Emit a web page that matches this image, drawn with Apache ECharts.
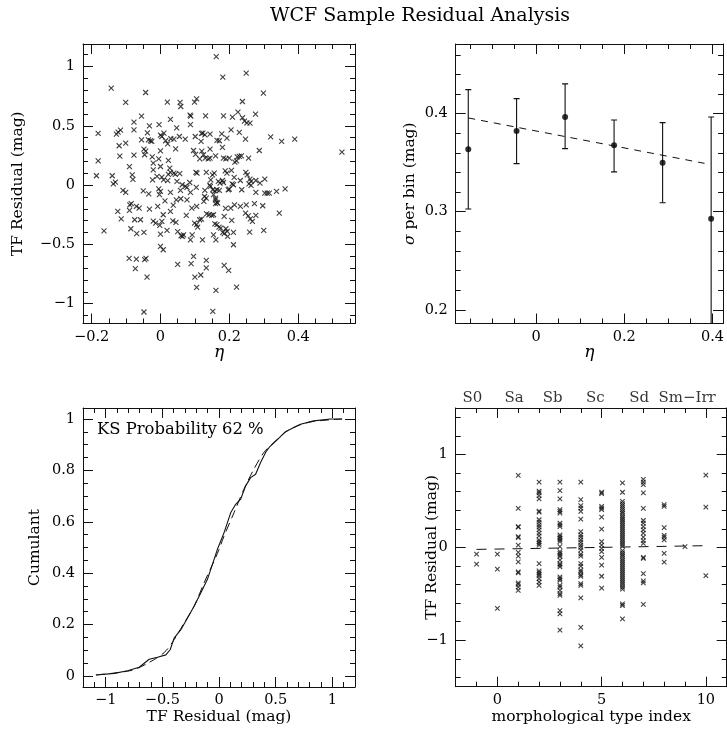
<!DOCTYPE html>
<html><head><meta charset="utf-8">
<script src="https://cdn.jsdelivr.net/npm/echarts@6/dist/echarts.min.js"></script>
<style>html,body{margin:0;padding:0;background:#fff}#c{width:727px;height:736px}</style>
</head><body><div id="c"></div>
<script>
// ---------- Panel 1: TF residual vs eta ----------
const tlEta = [0.162,0.181,0.249,-0.143,-0.043,0.299,-0.101,0.020,0.057,0.059,0.099,0.105,0.238,-0.055,-0.077,0.029,0.086,0.088,0.131,0.183,0.209,0.225,0.238,0.244,0.251,0.260,0.276,0.087,-0.032,-0.004,0.047,-0.181,-0.128,-0.123,-0.116,-0.077,-0.038,0.000,0.004,0.010,0.030,0.039,0.055,0.072,0.101,0.119,0.123,0.129,0.144,0.164,0.171,0.178,0.193,0.205,0.229,0.247,0.320,0.352,0.390,0.527,
-0.120,-0.101,-0.055,-0.035,-0.029,-0.025,0.015,0.021,0.044,0.000,-0.048,-0.043,-0.046,-0.077,-0.118,-0.181,-0.090,-0.024,-0.005,0.023,0.096,0.102,0.120,0.125,0.144,0.180,0.118,0.287,0.114,0.130,0.139,0.144,0.160,0.183,0.190,0.200,0.223,0.229,0.235,0.221,0.256,
-0.021,0.000,0.027,-0.021,-0.082,-0.080,-0.186,-0.140,-0.137,-0.131,-0.023,-0.010,0.004,0.009,0.023,0.029,0.039,0.043,0.056,0.103,0.106,0.133,0.151,0.156,0.146,0.143,0.168,0.173,0.188,0.193,0.180,0.183,0.214,0.208,0.232,0.248,0.252,0.260,0.263,0.257,0.263,0.277,0.289,0.303,0.063,0.048,0.072,0.077,0.104,0.085,-0.005,0.021,
-0.109,-0.101,-0.050,-0.034,0.000,-0.003,0.029,0.058,0.087,0.129,0.128,0.145,0.152,0.158,0.164,0.154,0.160,0.164,0.160,0.171,0.197,0.200,0.236,0.212,0.277,0.303,0.310,0.316,0.337,0.362,
-0.089,-0.085,-0.070,-0.062,-0.124,-0.114,-0.090,-0.075,-0.058,-0.032,-0.008,0.013,0.037,0.046,0.059,0.077,0.105,0.091,0.126,0.133,0.160,0.166,0.189,0.204,0.215,0.232,0.249,0.273,0.297,0.207,0.075,0.134,0.141,0.149,0.154,0.185,0.247,0.255,0.261,0.267,0.277,0.345,
-0.164,-0.086,-0.069,-0.048,-0.021,-0.014,-0.002,0.004,0.000,0.019,0.008,0.029,0.036,0.045,0.050,0.060,0.064,0.067,0.087,0.092,0.099,0.105,0.108,0.114,0.119,0.122,0.158,0.164,0.170,0.175,0.154,0.161,0.190,0.194,0.181,0.185,0.195,0.212,0.212,0.259,0.300,
0.000,0.008,-0.091,-0.070,-0.046,-0.042,-0.073,-0.039,0.050,0.089,0.096,0.133,0.133,0.185,0.198,0.100,0.117,0.105,0.161,0.221,-0.048,0.152,0.216,0.206];
const tlResid = [1.084,0.910,0.944,0.818,0.781,0.776,0.697,0.700,0.697,0.663,0.700,0.728,0.705,0.582,0.531,0.554,0.590,0.582,0.584,0.584,0.573,0.615,0.568,0.540,0.525,0.523,0.599,0.511,0.500,0.511,0.483,0.436,0.430,0.447,0.464,0.466,0.441,0.421,0.410,0.438,0.391,0.388,0.410,0.388,0.410,0.436,0.438,0.424,0.430,0.377,0.374,0.433,0.396,0.466,0.444,0.388,0.407,0.368,0.388,0.278,
0.332,0.354,0.382,0.382,0.374,0.368,0.374,0.348,0.306,0.289,0.303,0.287,0.256,0.253,0.244,0.205,0.155,0.239,0.222,0.208,0.292,0.259,0.287,0.256,0.303,0.318,0.368,0.292,0.222,0.228,0.222,0.228,0.247,0.228,0.222,0.228,0.239,0.242,0.247,0.205,0.228,
0.185,0.157,0.143,0.129,0.087,0.048,0.079,0.079,0.011,0.025,0.045,0.073,0.067,0.045,0.090,0.107,0.101,0.090,0.096,0.107,0.101,0.107,0.087,0.101,0.045,0.000,0.031,0.017,0.121,0.101,0.039,0.022,0.065,0.011,0.039,0.107,0.087,0.051,0.031,0.011,-0.003,0.039,0.017,0.051,0.003,0.031,-0.011,-0.020,-0.020,0.022,-0.031,0.037,
-0.045,-0.062,-0.048,-0.073,-0.053,-0.081,-0.062,-0.045,-0.062,-0.045,-0.096,-0.011,-0.039,-0.048,-0.039,-0.081,-0.110,-0.146,-0.157,-0.045,-0.039,-0.034,-0.039,0.003,-0.062,-0.067,-0.067,-0.067,-0.053,-0.031,
-0.166,-0.157,-0.180,-0.194,-0.222,-0.284,-0.213,-0.292,-0.292,-0.202,-0.180,-0.132,-0.169,-0.124,-0.115,-0.124,-0.180,-0.194,-0.138,-0.110,-0.124,-0.152,-0.197,-0.194,-0.166,-0.180,-0.166,-0.157,-0.174,-0.298,-0.256,-0.242,-0.250,-0.256,-0.250,-0.264,-0.236,-0.259,-0.284,-0.306,-0.256,-0.236,
-0.385,-0.368,-0.410,-0.399,-0.303,-0.320,-0.340,-0.306,-0.413,-0.382,-0.250,-0.222,-0.301,-0.315,-0.393,-0.427,-0.433,-0.419,-0.461,-0.419,-0.320,-0.334,-0.354,-0.292,-0.287,-0.461,-0.326,-0.334,-0.354,-0.362,-0.419,-0.461,-0.368,-0.390,-0.399,-0.410,-0.433,-0.399,-0.503,-0.396,-0.382,
-0.517,-0.545,-0.618,-0.624,-0.629,-0.618,-0.705,-0.775,-0.669,-0.663,-0.601,-0.635,-0.697,-0.677,-0.719,-0.775,-0.758,-0.862,-0.888,-0.860,-1.070,-1.065,0.194,0.124];

// ---------- Panel 2: sigma per eta bin ----------
const binEta   = [-0.1535, -0.044, 0.066, 0.177, 0.287, 0.397];
const binSigma = [0.3636, 0.3823, 0.3966, 0.3677, 0.3500, 0.2929];
const binLow   = [0.3027, 0.3490, 0.3643, 0.3406, 0.3092, 0.1850];
const binHigh  = [0.4245, 0.4153, 0.4303, 0.3935, 0.3908, 0.3966];
const fitEta   = [-0.1535, 0.382];
const fitSigma = [0.3956, 0.3493];

// ---------- Panel 3: cumulative distributions ----------
const cdfX = [-1.086,-0.924,-0.807,-0.704,-0.616,-0.543,-0.469,-0.431,-0.396,-0.337,-0.279,-0.220,-0.161,-0.103,-0.044,-0.015,0.044,0.103,0.147,0.191,0.235,0.279,0.323,0.367,0.411,0.449,0.513,0.587,0.660,0.719,0.836,0.983,1.086];
const cdfY = [0.004,0.010,0.020,0.034,0.065,0.073,0.082,0.102,0.147,0.180,0.225,0.271,0.323,0.375,0.453,0.492,0.557,0.635,0.668,0.688,0.740,0.772,0.785,0.831,0.870,0.893,0.919,0.951,0.967,0.980,0.993,1.000,1.000];
const gaussX = [-1.086,-0.778,-0.631,-0.484,-0.396,-0.308,-0.220,-0.132,-0.044,0.000,0.044,0.132,0.220,0.308,0.396,0.484,0.602,0.719,0.836,1.086];
const gaussY = [0.004,0.021,0.049,0.091,0.141,0.206,0.271,0.362,0.447,0.492,0.544,0.635,0.727,0.805,0.870,0.909,0.954,0.978,0.991,1.000];
const ksText = 'KS Probability 62 %';

// ---------- Panel 4: residual vs morphological type ----------
const typeCols = {
  '-1': [-0.072,-0.181],
  '0':  [-0.072,-0.235,-0.658],
  '1':  [0.774,0.420,0.224,0.217,0.116,0.105,0.025,-0.054,-0.094,-0.156,-0.264,-0.275,-0.383,-0.398,-0.427,-0.463],
  '2':  [0.702,0.604,0.586,0.557,0.521,0.391,0.380,0.297,0.271,0.242,0.217,0.188,0.152,0.123,0.080,0.058,0.043,0.025,-0.174,-0.253,-0.271,-0.289,-0.307,-0.336,-0.373,-0.409],
  '3':  [0.702,0.611,0.521,0.405,0.387,0.369,0.260,0.242,0.224,0.134,0.116,0.098,0.080,0.061,0.007,-0.047,-0.065,-0.083,-0.101,-0.137,-0.174,-0.192,-0.210,-0.318,-0.336,-0.354,-0.409,-0.427,-0.463,-0.499,-0.517,-0.680,-0.716,-0.890],
  '4':  [0.702,0.514,0.449,0.423,0.387,0.304,0.170,0.134,0.109,0.080,0.054,0.025,0.000,-0.029,-0.072,-0.094,-0.174,-0.203,-0.246,-0.264,-0.293,-0.311,-0.391,-0.409,-0.543,-0.861,-1.060],
  '5':  [0.593,0.579,0.441,0.423,0.405,0.326,0.195,0.061,0.025,-0.011,-0.047,-0.109,-0.192,-0.311,-0.438],
  '6':  [0.694,0.593,0.495,0.470,0.449,0.427,0.405,0.383,0.362,0.340,0.318,0.297,0.275,0.253,0.231,0.210,0.188,0.166,0.145,0.123,0.101,0.080,0.058,0.036,0.014,-0.036,-0.058,-0.080,-0.101,-0.123,-0.145,-0.166,-0.188,-0.210,-0.231,-0.253,-0.275,-0.297,-0.318,-0.340,-0.362,-0.383,-0.405,-0.427,-0.449,-0.608,-0.626,-0.770],
  '7':  [0.731,0.702,0.676,0.586,0.420,0.289,0.260,0.224,0.188,0.152,0.109,0.072,0.043,-0.109,-0.119,-0.282,-0.362,-0.383,-0.615],
  '8':  [0.459,0.441,0.213,0.130,0.109,0.080,-0.065,-0.159],
  '9':  [0.007],
  '10': [0.778,0.434,-0.304]
};
const typeFitX = [-1, 10];
const typeFitY = [-0.022, 0.018];
const typeNames = ['S0','Sa','Sb','Sc','Sd','Sm\u2212Irr'];
const typeNamePos = [-1.2, 0.8, 2.65, 4.7, 6.8, 9.1];

// ---------- chart ----------
const FONT = 'DejaVu Serif';
const INK = '#111';
const TICKFS = 14.5, NAMEFS = 15.5;
const fmt = v => String(+v.toFixed(6)).replace('-', '\u2212');

function axis(o) {
  return {
    type: 'value', gridIndex: o.grid, position: o.pos,
    min: o.min, max: o.max, minInterval: o.step, maxInterval: o.step, splitNumber: 5,
    axisLine: {show: true, onZero: false, lineStyle: {color: INK, width: 1}},
    axisTick: {show: true, inside: true, length: 10, lineStyle: {color: INK, width: 1}},
    minorTick: {show: true, splitNumber: o.minor, length: 5, lineStyle: {color: INK, width: 1}},
    splitLine: {show: false}, minorSplitLine: {show: false},
    axisLabel: {show: !!o.labels, margin: o.margin == null ? 8 : o.margin, color: '#000',
      fontFamily: FONT, fontSize: TICKFS, showMinLabel: false, showMaxLabel: false, formatter: fmt},
    name: o.name || '', nameLocation: 'middle', nameGap: o.nameGap || 20, nameMoveOverlap: false,
    nameTextStyle: Object.assign({color: '#000', fontFamily: FONT, fontSize: NAMEFS}, o.nameStyle || {}),
    silent: true
  };
}
function pair(grid, xo, yo) {
  const xs = [axis(Object.assign({grid, pos: 'bottom', labels: true}, xo)),
              axis(Object.assign({}, xo, {grid, pos: 'top', labels: false, name: ''}))];
  const ys = [axis(Object.assign({grid, pos: 'left', labels: true}, yo)),
              axis(Object.assign({}, yo, {grid, pos: 'right', labels: false, name: ''}))];
  return {xs, ys};
}

const etaStyle = {fontStyle: 'italic', fontSize: 17};
const p1 = pair(0, {min: -0.225, max: 0.565, step: 0.2, minor: 4, name: '\u03b7', nameGap: 21, margin: 6, nameStyle: etaStyle},
                   {min: -1.167, max: 1.19, step: 0.5, minor: 5, name: 'TF Residual (mag)', nameGap: 57});
const p2 = pair(1, {min: -0.182, max: 0.424, step: 0.2, minor: 4, name: '\u03b7', nameGap: 21, margin: 6, nameStyle: etaStyle},
                   {min: 0.186, max: 0.471, step: 0.1, minor: 5, name: '{i|\u03c3} per bin (mag)', nameGap: 38,
                    nameStyle: {rich: {i: {fontStyle: 'italic', fontFamily: FONT, fontSize: NAMEFS, color: '#000'}}}});
const p3 = pair(2, {min: -1.2, max: 1.2, step: 0.5, minor: 5, name: 'TF Residual (mag)', nameGap: 22, margin: 6},
                   {min: -0.043, max: 1.043, step: 0.2, minor: 4, name: 'Cumulant', nameGap: 40});
const p4 = pair(3, {min: -2, max: 11, step: 5, minor: 5, name: 'morphological type index', nameGap: 22, margin: 6},
                   {min: -1.5, max: 1.5, step: 1, minor: 5, name: 'TF Residual (mag)', nameGap: 16});

const xAxis = [].concat(p1.xs, p2.xs, p3.xs, p4.xs);
const yAxis = [].concat(p1.ys, p2.ys, p3.ys, p4.ys);

const cross = 'path://M0 0L10 10M10 0L0 10';
const crossStyle = {color: 'rgba(0,0,0,0)', borderColor: INK, borderWidth: 1.1};

const typeData = [];
Object.keys(typeCols).forEach(k => typeCols[k].forEach(v => typeData.push([+k, v])));

const series = [
  {type: 'scatter', xAxisIndex: 0, yAxisIndex: 0, symbol: cross, symbolSize: 5, itemStyle: crossStyle,
   data: tlEta.map((e, i) => [e, tlResid[i]])},
  {type: 'custom', xAxisIndex: 2, yAxisIndex: 2, clip: true,
   data: binEta.map((e, i) => [e, binLow[i], binHigh[i]]),
   renderItem: (params, api) => {
     const a = api.coord([api.value(0), api.value(1)]);
     const b = api.coord([api.value(0), api.value(2)]);
     const w = 3, st = {stroke: INK, lineWidth: 1.1};
     return {type: 'group', children: [
       {type: 'line', shape: {x1: a[0], y1: a[1], x2: b[0], y2: b[1]}, style: st},
       {type: 'line', shape: {x1: a[0] - w, y1: a[1], x2: a[0] + w, y2: a[1]}, style: st},
       {type: 'line', shape: {x1: b[0] - w, y1: b[1], x2: b[0] + w, y2: b[1]}, style: st}
     ]};
   }},
  {type: 'scatter', xAxisIndex: 2, yAxisIndex: 2, symbol: 'circle', symbolSize: 6, itemStyle: {color: '#000'},
   data: binEta.map((e, i) => [e, binSigma[i]])},
  {type: 'line', xAxisIndex: 2, yAxisIndex: 2, symbol: 'none', lineStyle: {color: INK, width: 1, type: [7, 6]},
   data: fitEta.map((e, i) => [e, fitSigma[i]])},
  {type: 'line', xAxisIndex: 4, yAxisIndex: 4, symbol: 'none', lineStyle: {color: INK, width: 1.1},
   data: cdfX.map((e, i) => [e, cdfY[i]])},
  {type: 'line', xAxisIndex: 4, yAxisIndex: 4, symbol: 'none', smooth: 0.3, lineStyle: {color: INK, width: 1, type: [9, 5]},
   data: gaussX.map((e, i) => [e, gaussY[i]])},
  {type: 'scatter', xAxisIndex: 6, yAxisIndex: 6, symbol: cross, symbolSize: 4.5, itemStyle: crossStyle, data: typeData},
  {type: 'line', xAxisIndex: 6, yAxisIndex: 6, symbol: 'none', lineStyle: {color: INK, width: 1, type: [10, 8]},
   data: typeFitX.map((e, i) => [e, typeFitY[i]])},
  {type: 'scatter', xAxisIndex: 6, yAxisIndex: 6, symbolSize: 0, clip: false,
   label: {show: true, position: 'top', distance: 2, formatter: p => typeNames[p.dataIndex],
           fontFamily: FONT, fontSize: 15, color: '#000'},
   data: typeNamePos.map(x => [x, 1.5])}
];
series.forEach(s => { s.animation = false; s.silent = true; s.emphasis = {disabled: true}; });

const chart = echarts.init(document.getElementById('c'), null, {renderer: 'canvas'});
chart.setOption({
  backgroundColor: '#fff',
  animation: false,
  title: {text: 'WCF Sample Residual Analysis', left: 265, top: 2,
          textStyle: {fontFamily: FONT, fontWeight: 'normal', fontSize: 19, color: '#000'}},
  grid: [
    {left: 83, top: 44, width: 272, height: 279.5},
    {left: 455.7, top: 44, width: 270.5, height: 279.5},
    {left: 83, top: 408, width: 272, height: 279},
    {left: 455.7, top: 408, width: 271, height: 278.7}
  ],
  xAxis, yAxis, series,
  graphic: [{type: 'text', left: 97, top: 422,
             style: {text: ksText, font: '16.4px "DejaVu Serif"', fill: '#000'}}]
});
</script></body></html>
